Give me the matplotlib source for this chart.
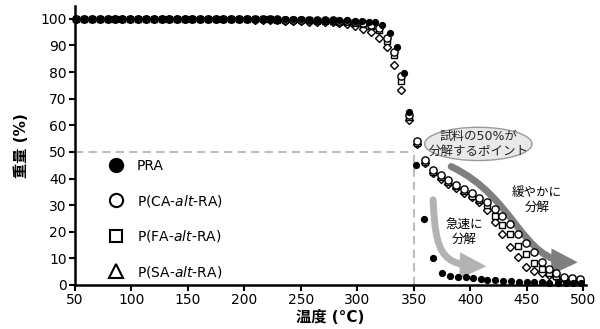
import numpy as np
import matplotlib
matplotlib.use("Agg")
import matplotlib.pyplot as plt
from matplotlib.lines import Line2D
from matplotlib.patches import Ellipse, FancyArrowPatch
from matplotlib.path import Path

plt.rcParams['font.family'] = ['DejaVu Sans', 'Noto Sans CJK JP']

# temperature grid (deg C) for the three copolymers
temps = [51, 58, 65, 72, 79, 85, 92, 99, 106, 113, 120, 127, 133, 140, 147,
         154, 161, 168, 175, 181, 188, 195, 202, 209, 216, 223, 229, 236, 243, 250,
         257, 264, 271, 278, 284, 291, 298, 305, 312, 319, 326, 332, 339, 346,
         353, 360, 367, 374, 380, 387, 394, 401, 408, 415, 422, 428, 435, 442,
         449, 456, 463, 470, 476, 483, 490, 497]

# temperature grid for PRA
temps_pra = [51, 58, 65, 72, 79, 85, 92, 99, 106, 113, 120, 127, 133, 140, 147,
             154, 161, 168, 175, 181, 188, 195, 202, 209, 216, 223, 229, 236, 243, 250,
             257, 264, 271, 278, 284, 291, 298, 304, 310, 316, 322, 329, 335, 341,
             346, 352, 359, 367, 375, 382, 389, 396, 402, 409, 415, 422, 429, 436,
             443, 450, 456, 463, 470, 478, 485, 491, 498]

pra = [100] * 20 + [99.8] * 10 + [99.7, 99.6, 99.6, 99.5, 99.5, 99.4, 99.3,
       99.2, 99.0, 98.9, 97.7, 94.6, 89.5, 79.6, 65, 45,
       24.6, 10.3, 4.4, 3.5, 3.1, 2.8, 2.5, 2.1, 1.9, 1.7,
       1.5, 1.3, 1.2, 1.1, 1.0, 1.0, 0.9, 0.8, 0.8, 0.7, 0.7]

ca = [100] * 25 + [99.8, 99.8, 99.7, 99.7, 99.6, 99.6, 99.5, 99.5, 99.4, 99.3,
      99.2, 98.8, 98.4, 97.8, 96.5, 92.8, 87.5, 78.5, 64, 54,
      47, 43.2, 41.2, 39.4, 37.7, 36, 34.4, 32.8, 31.2, 28.5, 25.9,
      22.8, 19.3, 15.8, 12.5, 8.8, 5.9, 4.4, 3.1, 2.5, 2.1]

fa = [100] * 25 + [99.8, 99.7, 99.7, 99.6, 99.5, 99.4, 99.3, 99.2, 99.1, 99.0,
      98.8, 98.4, 97.9, 97.2, 95.9, 91.8, 86.5, 76.8, 63, 53.3,
      46.2, 42.4, 40.5, 38.8, 37, 35.2, 33.6, 32, 30, 25.9, 22.6,
      19.3, 14.6, 11.7, 8.1, 5.9, 4.4, 3.4, 2.5, 2.1, 1.9]

sa = [100] * 22 + [99.8, 99.7, 99.6, 99.5, 99.4, 99.3, 99.2, 99.1, 99.0, 98.9, 98.8, 98.7, 98.5,
      98.2, 97.4, 96.1, 94.9, 92.7, 89.3, 82.7, 73.3, 62, 53,
      46, 42, 40, 38.1, 36.3, 34.5, 33, 31, 28.3, 23.8, 19.2,
      14.4, 10.6, 6.9, 5.4, 4.4, 3.8, 2.9, 2.1, 1.9, 1.6]

labels = ['PRA', r'P(CA-$\mathit{alt}$-RA)', r'P(FA-$\mathit{alt}$-RA)',
          r'P(SA-$\mathit{alt}$-RA)']

fig = plt.figure(figsize=(6.0, 3.29), dpi=100)
ax = fig.add_axes([0.125, 0.134, 0.851, 0.849])

# 50% guide lines
ax.plot([50, 350], [50, 50], color='#bdbdbd', lw=1.5, ls=(0, (4, 2.5)), zorder=1)
ax.plot([350, 350], [0, 50], color='#bdbdbd', lw=1.5, ls=(0, (4, 2.5)), zorder=1)

ax.plot(temps, sa, ls='none', marker='D', ms=3.8, mfc='white', mec='black', mew=1.0, clip_on=False, zorder=3)
ax.plot(temps, fa, ls='none', marker='s', ms=4.6, mfc='white', mec='black', mew=1.0, clip_on=False, zorder=4)
ax.plot(temps, ca, ls='none', marker='o', ms=5.2, mfc='white', mec='black', mew=1.0, clip_on=False, zorder=5)
ax.plot(temps_pra, pra, ls='none', marker='o', ms=4.2, mfc='black', mec='black', clip_on=False, zorder=6)

# annotation: 50% point bubble
ax.add_patch(Ellipse((407, 53), 95, 12.5, facecolor='#e9e9e9', edgecolor='#9a9a9a', lw=1.0, zorder=7))
ax.text(407, 53, '試料の50%が\n分解するポイント', ha='center', va='center', fontsize=9,
        linespacing=1.1, color='#222222', zorder=8)

# slow decomposition arrow (dark gray, S-shaped)
p_slow = Path([(383, 44.5), (440, 33), (445, 9), (495, 8.5)],
              [Path.MOVETO, Path.CURVE4, Path.CURVE4, Path.CURVE4])
ax.add_patch(FancyArrowPatch(path=p_slow, arrowstyle='-|>,head_length=11,head_width=5.5',
                             color='#7f7f7f', lw=5, shrinkA=0, shrinkB=0,
                             joinstyle='miter', zorder=2.5))
ax.text(459, 32, '緩やかに\n分解', ha='center', va='center', fontsize=9, linespacing=1.15)

# fast decomposition arrow (light gray)
p_fast = Path([(367, 32), (369, 12), (375, 7.5), (414, 7)],
              [Path.MOVETO, Path.CURVE4, Path.CURVE4, Path.CURVE4])
ax.add_patch(FancyArrowPatch(path=p_fast, arrowstyle='-|>,head_length=11,head_width=5.5',
                             color='#b3b3b3', lw=5, shrinkA=0, shrinkB=0,
                             joinstyle='miter', zorder=2.5))
ax.text(395, 20, '急速に\n分解', ha='center', va='center', fontsize=9, linespacing=1.15)

# legend
handles = [Line2D([], [], ls='none', marker='o', ms=10, mfc='black', mec='black'),
           Line2D([], [], ls='none', marker='o', ms=9.5, mfc='white', mec='black', mew=1.5),
           Line2D([], [], ls='none', marker='s', ms=9, mfc='white', mec='black', mew=1.5),
           Line2D([], [], ls='none', marker='^', ms=10, mfc='white', mec='black', mew=1.5)]
ax.legend(handles, labels, loc='upper left', bbox_to_anchor=(0.05, 0.475), frameon=False,
          fontsize=10, labelspacing=1.4, handletextpad=0.9, handlelength=1.2, borderpad=0)

ax.set_xlim(50, 502)
ax.set_ylim(0, 105)
ax.set_xticks(np.arange(50, 501, 50))
ax.set_yticks(np.arange(0, 101, 10))
for s in ['top', 'right']:
    ax.spines[s].set_visible(False)
for s in ['left', 'bottom']:
    ax.spines[s].set_linewidth(1.8)
ax.tick_params(direction='out', length=4, width=1.5, labelsize=10, pad=2)
ax.set_xlabel('温度 (°C)', fontsize=11, fontweight='bold', labelpad=2)
ax.set_ylabel('重量 (%)', fontsize=11, fontweight='bold', labelpad=8)

plt.savefig('out.png', dpi=100)
